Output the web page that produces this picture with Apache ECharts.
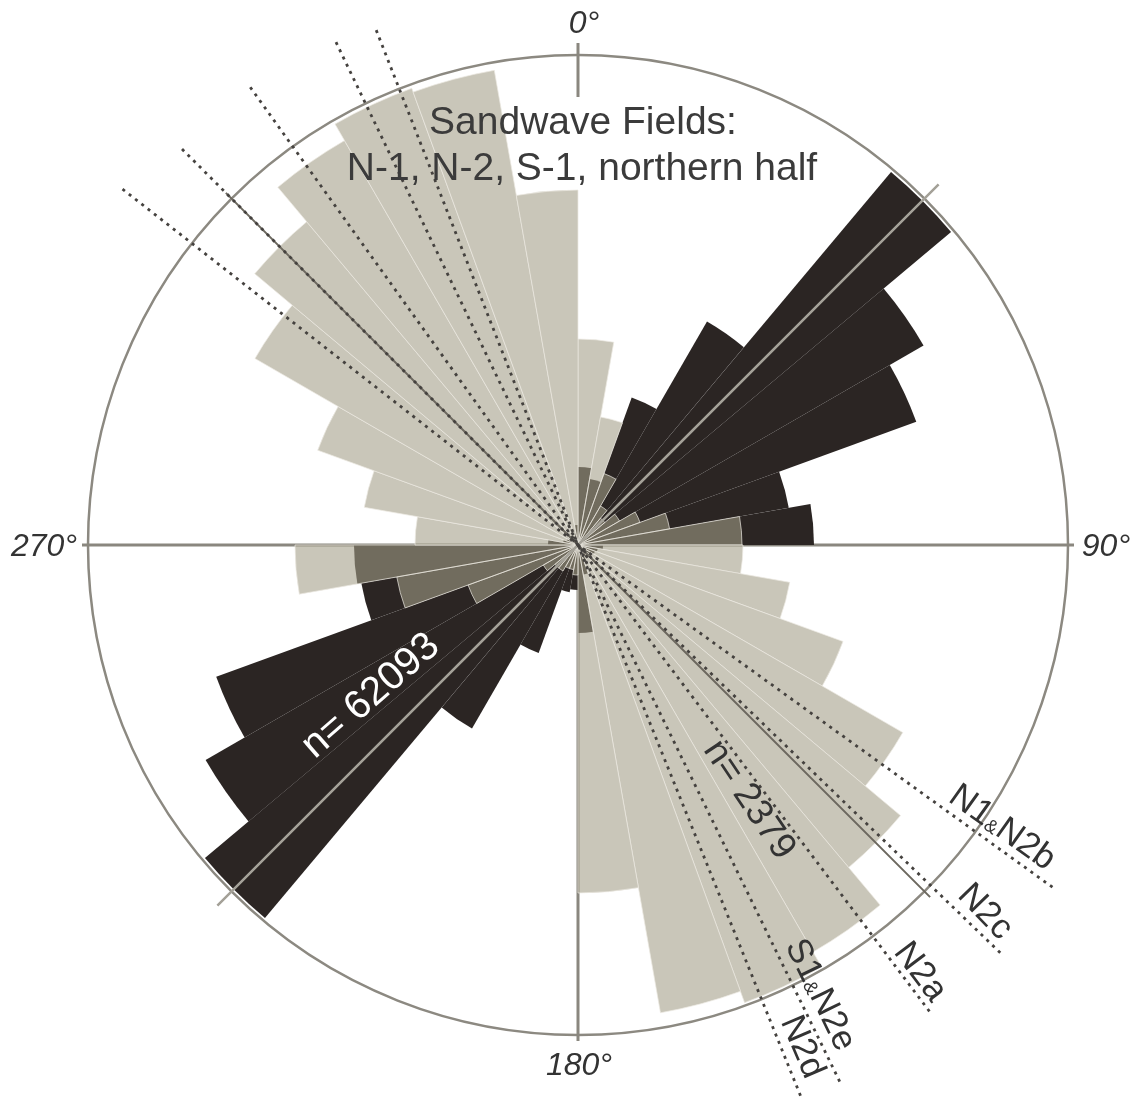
<!DOCTYPE html>
<html>
<head>
<meta charset="utf-8">
<script src="https://cdn.jsdelivr.net/npm/echarts@6/dist/echarts.min.js"></script>
<style>
  html, body { margin: 0; padding: 0; background: #fff; }
  #chart { width: 1148px; height: 1099px; }
</style>
</head>
<body>
<div id="chart"></div>
<script>
// 10° bins, bearing clockwise from north
const bins = ['0','10','20','30','40','50','60','70','80','90','100','110',
  '120','130','140','150','160','170','180','190','200','210','220','230',
  '240','250','260','270','280','290','300','310','320','330','340','350'];

// dark rose, n = 62093
const ripples = [78, 67, 157, 258, 487, 399, 360, 214, 236, 25, 20, 18,
  15, 15, 15, 20, 30, 88, 45, 48, 115, 212, 487, 430,
  385, 220, 224, 30, 15, 12, 10, 10, 10, 10, 12, 20];

// light rose, sandwave fields, n = 2379
const sandwaves = [206, 130, 76, 45, 35, 48, 66, 93, 164, 165, 215, 282,
  375, 421, 470, 487, 475, 348, 30, 25, 25, 30, 30, 40,
  117, 184, 283, 163, 217, 277, 373, 422, 467, 486, 482, 355];

// crest directions of the individual fields (dotted lines)
const crestNames = ['N1&N2b', 'N2c', 'N2a', 'S1&N2e', 'N2d'];
const crestBearingsSE = [125.8, 134, 143, 154, 158];
const crestBearingsNW = [308, 315, 324.4, 334.3, 338.6];
const crestReachSE = [589, 587, 587, 597, 598];
const crestReachNW = [578, 560, 563, 558, 553];

const CX = 578, CY = 545, R = 490;
const R_OUT = 620; // second polar, same scale, room for lines past the circle

const chart = echarts.init(document.getElementById('chart'));

const lineSeries = (data, style, z) => ({
  type: 'line',
  coordinateSystem: 'polar',
  polarIndex: 1,
  data: data,
  symbol: 'none',
  clip: false,
  silent: true,
  z: z,
  lineStyle: style
});

const series = [
  // compass axes, under the bars
  lineSeries([[496, 270], [0, 270], [496, 90]], { color: '#8a877f', width: 3 }, 1),
  lineSeries([[0, 180], [496, 180]], { color: '#8a877f', width: 3 }, 1),
  lineSeries([[448, 0], [502, 0]], { color: '#8a877f', width: 3 }, 1),
  {
    type: 'bar',
    coordinateSystem: 'polar',
    polarIndex: 0,
    data: ripples,
    barCategoryGap: '0%',
    barGap: '-100%',
    z: 2,
    itemStyle: { color: '#2b2523' }
  },
  {
    type: 'bar',
    coordinateSystem: 'polar',
    polarIndex: 0,
    data: sandwaves,
    barCategoryGap: '0%',
    barGap: '-100%',
    z: 3,
    itemStyle: {
      color: 'rgba(163,158,136,0.59)',
      borderColor: 'rgba(236,234,226,0.7)',
      borderWidth: 1
    }
  },
  // mean directions
  lineSeries([[510, 225], [0, 225], [510, 45]], { color: '#a4a198', width: 2.5 }, 4),
  lineSeries([[498, 315], [0, 315], [498, 135]], { color: '#6c685f', width: 2 }, 4)
];

crestNames.forEach((n, i) => {
  series.push(lineSeries(
    [[crestReachNW[i], crestBearingsNW[i]], [0, crestBearingsNW[i]], [0, crestBearingsSE[i]],
     [crestReachSE[i], crestBearingsSE[i]]],
    { color: '#45423f', width: 2.8, type: [3, 5] }, 5));
});

const deg = (x, y, t) => ({
  type: 'text', x: x, y: y, z: 10,
  style: { text: t, fill: '#333', font: 'italic 32px "Liberation Sans", Arial, sans-serif',
    align: 'center', verticalAlign: 'middle' }
});

const richLabel = (name) => {
  const parts = name.split('&');
  return parts.length > 1 ? '{a|' + parts[0] + '}{b|&}{a|' + parts[1] + '}' : '{a|' + name + '}';
};

const crestLabelPos = [[1002, 828, -35.5], [985, 912, -46], [920, 972, -53], [820, 995, -64], [802, 1047, -67]];

const graphics = [
  deg(584, 24, '0°'), deg(1106, 547, '90°'), deg(579, 1066, '180°'), deg(44, 547, '270°'),
  {
    type: 'text', x: 583, y: 123, z: 10,
    style: { text: 'Sandwave Fields:', fill: '#3b3b3b', font: '39px "Liberation Sans", Arial, sans-serif',
      align: 'center', verticalAlign: 'middle' }
  },
  {
    type: 'text', x: 582, y: 169, z: 10,
    style: { text: 'N-1, N-2, S-1, northern half', fill: '#3b3b3b', font: '39px "Liberation Sans", Arial, sans-serif',
      align: 'center', verticalAlign: 'middle' }
  },
  {
    type: 'text', x: 371, y: 696, z: 10, rotation: 41 * Math.PI / 180,
    style: { text: 'n= 62093', fill: '#ffffff', font: '40px "Liberation Sans", Arial, sans-serif',
      align: 'center', verticalAlign: 'middle' }
  },
  {
    type: 'text', x: 749, y: 800, z: 10, rotation: -56 * Math.PI / 180,
    style: { text: 'n= 2379', fill: '#333', font: '37px "Liberation Sans", Arial, sans-serif',
      align: 'center', verticalAlign: 'middle' }
  }
];

crestNames.forEach((n, i) => {
  const p = crestLabelPos[i];
  graphics.push({
    type: 'text', x: p[0], y: p[1], z: 10, rotation: p[2] * Math.PI / 180,
    style: {
      text: richLabel(n), align: 'center', verticalAlign: 'middle',
      rich: {
        a: { fill: '#333', font: '35px "Liberation Sans", Arial, sans-serif' },
        b: { fill: '#333', font: '19px "Liberation Sans", Arial, sans-serif', padding: [12, 0, 0, 0] }
      }
    }
  });
});

const hiddenAxis = { axisLine: { show: false }, axisTick: { show: false },
  axisLabel: { show: false }, splitLine: { show: false } };

chart.setOption({
  animation: false,
  polar: [
    { center: [CX, CY], radius: R },
    { center: [CX, CY], radius: R_OUT }
  ],
  angleAxis: [
    {
      polarIndex: 0, type: 'category', data: bins, startAngle: 90, clockwise: true,
      axisLine: { show: true, lineStyle: { color: '#8c8981', width: 2.5 } },
      axisTick: { show: false }, axisLabel: { show: false }, splitLine: { show: false }
    },
    Object.assign({ polarIndex: 1, type: 'value', min: 0, max: 360, startAngle: 90, clockwise: true }, hiddenAxis)
  ],
  radiusAxis: [
    Object.assign({ polarIndex: 0, type: 'value', min: 0, max: R }, hiddenAxis),
    Object.assign({ polarIndex: 1, type: 'value', min: 0, max: R_OUT }, hiddenAxis)
  ],
  series: series,
  graphic: graphics
});
</script>
</body>
</html>
